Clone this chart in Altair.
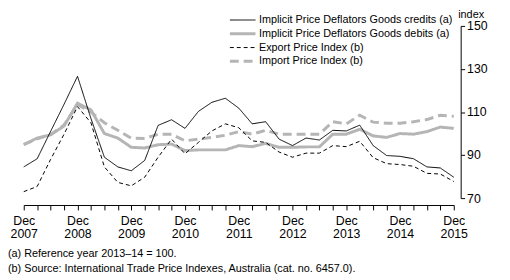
import altair as alt
import pandas as pd

months = ["Dec", "Mar", "Jun", "Sep"]
quarters = []
for i in range(33):
    m = months[i % 4]
    y = 2007 + (i + 3) // 4 if i % 4 else 2007 + i // 4
    quarters.append(f"{m} {y}")

series_names = [
    "Implicit Price Deflators Goods credits (a)",
    "Implicit Price Deflators Goods debits (a)",
    "Export Price Index (b)",
    "Import Price Index (b)",
]

credits = [84.5, 88.3, 101.0, 113.6, 126.6, 107.0, 89.0, 84.5, 82.7, 87.5, 103.8,
           106.4, 102.4, 110.3, 114.5, 116.4, 111.8, 104.5, 105.5, 97.4, 94.4, 97.9,
           97.0, 101.5, 101.2, 103.9, 94.4, 89.8, 89.4, 88.3, 84.5, 84.0, 79.7]
debits = [94.8, 97.9, 99.4, 103.5, 114.1, 111.0, 100.0, 97.9, 93.6, 93.3, 94.8,
          95.1, 92.1, 92.4, 92.4, 92.4, 94.4, 93.9, 95.4, 93.6, 93.6, 93.8,
          93.8, 99.7, 99.7, 102.0, 98.9, 98.2, 100.0, 99.7, 100.9, 103.0, 102.4]
export_idx = [73.0, 75.4, 88.0, 99.7, 112.5, 105.0, 84.5, 77.3, 75.7, 79.7, 89.0,
              97.4, 90.6, 95.9, 101.2, 104.5, 102.7, 96.6, 95.9, 91.4, 89.0, 90.9,
              90.9, 94.4, 93.9, 96.4, 88.8, 86.0, 85.6, 84.8, 81.5, 81.2, 77.7]
import_idx = [95.0, 97.5, 99.5, 104.0, 113.5, 110.0, 105.0, 101.5, 97.8, 97.7, 99.7,
              99.7, 96.6, 97.4, 98.2, 99.2, 100.9, 99.7, 101.5, 99.7, 99.7, 99.7,
              99.7, 105.5, 104.5, 108.5, 105.3, 104.8, 104.8, 105.5, 106.5, 108.5, 108.0]

y_ticks = [70, 90, 110, 130, 150]
footnotes = [
    "(a) Reference year 2013\u201314 = 100.",
    "(b) Source: International Trade Price Indexes, Australia (cat. no. 6457.0).",
]

rows = []
for name, vals in zip(series_names, [credits, debits, export_idx, import_idx]):
    for q, v in zip(quarters, vals):
        rows.append({"quarter": q, "value": v, "series": name})
df = pd.DataFrame(rows)

GRAY = "#b5b5b5"
FONT = "Liberation Sans"

color = alt.Color(
    "series:N",
    scale=alt.Scale(domain=series_names, range=["#000000", GRAY, "#000000", GRAY]),
    legend=alt.Legend(
        title=None, orient="none", legendX=208, legendY=-12,
        symbolType="stroke", symbolSize=676, labelFontSize=11, labelFont=FONT,
        labelColor="#000000", clipHeight=12, rowPadding=2, labelOffset=2,
        padding=0, labelLimit=400,
    ),
)
dash = alt.StrokeDash(
    "series:N",
    scale=alt.Scale(domain=series_names, range=[[1, 0], [1, 0], [4, 3], [9, 5]]),
    legend=alt.Legend(title=None),
)
width = alt.StrokeWidth(
    "series:N",
    scale=alt.Scale(type="ordinal", domain=series_names, range=[1, 3, 1, 3]),
    legend=alt.Legend(title=None),
)

x = alt.X(
    "quarter:O", sort=quarters,
    scale=alt.Scale(type="point", padding=0),
    axis=alt.Axis(
        title=None, labelAngle=0, offset=7, tickSize=5, labelPadding=5,
        labelExpr="slice(datum.value,0,3)=='Dec' ? split(datum.value,' ') : ''",
        labelOverlap=False, labelFontSize=12.5, labelLineHeight=13, labelFont=FONT,
        labelColor="#000000", domainColor="#000000", tickColor="#000000", grid=False,
    ),
)
y = alt.Y(
    "value:Q",
    scale=alt.Scale(domain=[70, 150], nice=False, zero=False),
    axis=alt.Axis(
        orient="right", values=y_ticks, offset=7, tickSize=4, labelPadding=2,
        labelFontSize=12.5, labelFont=FONT, labelColor="#000000",
        domainColor="#000000", tickColor="#000000", grid=False,
        title="index", titleAngle=0, titleX=-3, titleY=-9, titleAlign="left",
        titleBaseline="alphabetic", titleFontWeight="normal", titleFontSize=11,
        titleFont=FONT, titleColor="#000000",
    ),
)

base = alt.Chart(df)
gray_layer = base.transform_filter(
    alt.FieldOneOfPredicate(field="series", oneOf=[series_names[1], series_names[3]])
).mark_line().encode(x=x, y=y, color=color, strokeDash=dash, strokeWidth=width)
black_layer = base.transform_filter(
    alt.FieldOneOfPredicate(field="series", oneOf=[series_names[0], series_names[2]])
).mark_line().encode(x=x, y=y, color=color, strokeDash=dash, strokeWidth=width)

chart = alt.layer(gray_layer, black_layer).properties(
    width=437, height=175,
    autosize=alt.AutoSizeParams(type="none"),
    padding={"left": 16, "top": 16, "right": 49, "bottom": 80},
    title=alt.TitleParams(
        text=footnotes, orient="bottom", anchor="start", frame="group", dx=-16, offset=8,
        fontSize=11, font=FONT, fontWeight="normal", color="#000000", lineHeight=16,
    ),
).configure_view(stroke=None)

chart.save("out.html", embed_options={"renderer": "svg", "actions": False})
